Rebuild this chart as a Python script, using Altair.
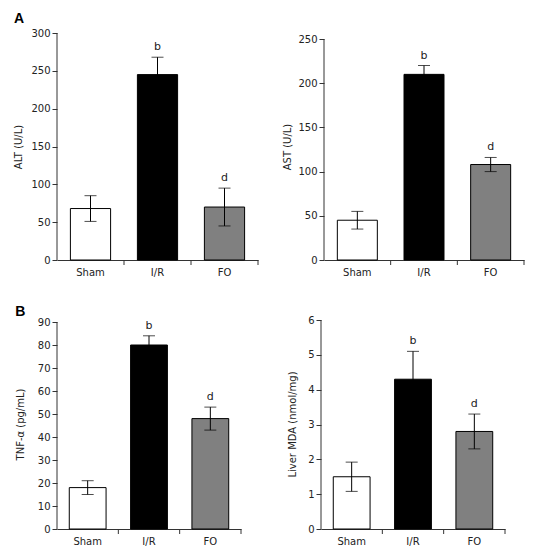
import altair as alt
import pandas as pd

categories = ["Sham", "I/R", "FO"]
sig_labels = ["", "b", "d"]
bar_colors = ["white", "black", "#808080"]

alt_mean = [68, 245, 70]
alt_err = [17, 23, 25]
ast_mean = [45, 210, 108]
ast_err = [10, 10, 8]
tnf_mean = [18, 80, 48]
tnf_err = [3, 4, 5]
mda_mean = [1.5, 4.3, 2.8]
mda_err = [0.42, 0.8, 0.5]

FONT = "DejaVu Sans"
AXC = "#333333"


def panel(mean, err, ytitle, ymax, ystep, dmax, w, h, title_text,
          title_offset, title_pad, fs):
    df = pd.DataFrame({
        "cat": categories,
        "mean": mean,
        "lo": [m - e for m, e in zip(mean, err)],
        "hi": [m + e for m, e in zip(mean, err)],
        "sig": sig_labels,
    })
    xaxis = alt.Axis(title=None, ticks=False, labelAngle=0, labelFont=FONT,
                     labelFontSize=fs, labelColor="#222", domainColor=AXC,
                     labelPadding=7)
    xscale = alt.Scale(paddingInner=0, paddingOuter=0)
    x = alt.X("cat:N", sort=categories, scale=xscale, axis=xaxis)
    vals = []
    v = 0
    while v <= ymax + 1e-9:
        vals.append(round(v, 6))
        v += ystep
    yscale = alt.Scale(domain=[0, dmax], nice=False)
    yaxis = alt.Axis(title=ytitle, values=vals, grid=False, tickSize=5,
                     tickColor=AXC, domain=False, labelFont=FONT,
                     labelFontSize=fs, labelColor="#222", labelPadding=2,
                     titleFont=FONT, titleFontSize=fs, titleFontWeight="normal",
                     titleColor="#222", titlePadding=title_pad)
    base = alt.Chart(df)
    bars = base.mark_bar(width=alt.RelativeBandSize(0.6), stroke="black",
                         strokeWidth=1).encode(
        x=x,
        y=alt.Y("mean:Q", scale=yscale, axis=yaxis),
        color=alt.Color("cat:N", scale=alt.Scale(domain=categories, range=bar_colors),
                        legend=None),
    )
    errs = base.mark_rule(color="black", strokeWidth=1).encode(
        x=x, y=alt.Y("lo:Q", scale=yscale, axis=yaxis), y2="hi:Q")
    cap_hi = base.mark_tick(color="black", thickness=1, size=12).encode(
        x=x, y=alt.Y("hi:Q", scale=yscale, axis=yaxis))
    cap_lo = base.mark_tick(color="black", thickness=1, size=12).encode(
        x=x, y=alt.Y("lo:Q", scale=yscale, axis=yaxis))
    letters = base.mark_text(font=FONT, fontSize=fs + 1, dy=-7,
                             baseline="alphabetic", color="#222").encode(
        x=x, y=alt.Y("hi:Q", scale=yscale, axis=yaxis), text="sig:N")
    xticks = base.mark_rule(color=AXC, strokeWidth=1).encode(
        x=alt.X("cat:N", sort=categories, scale=xscale, axis=xaxis, bandPosition=1),
        y=alt.value(h), y2=alt.value(h + 5))
    yline = alt.Chart(pd.DataFrame({"y0": [0], "y1": [ymax]})).mark_rule(
        color=AXC, strokeWidth=1).encode(
        x=alt.value(0), y=alt.Y("y0:Q", scale=yscale, axis=yaxis), y2="y1:Q")
    props = dict(width=w, height=h)
    if title_text:
        props["title"] = alt.TitleParams(title_text, anchor="start", frame="bounds",
                                         fontSize=14, fontWeight="bold",
                                         font="Liberation Sans", color="black",
                                         offset=title_offset)
    return alt.layer(bars, errs, cap_hi, cap_lo, letters, xticks, yline).properties(**props)


p1 = panel(alt_mean, alt_err, "ALT (U/L)", 300, 50, 300, 201, 227, "A", 2, 7, 10)
p2 = panel(ast_mean, ast_err, "AST (U/L)", 250, 50, 250 * 227 / 221, 200, 227, None, 0, 5, 10)
p3 = panel(tnf_mean, tnf_err, "TNF-α (pg/mL)", 90, 10, 90 * 210 / 207, 184, 210, "B", -2, 12, 10)
p4 = panel(mda_mean, mda_err, "Liver MDA (nmol/mg)", 6, 1, 6 * 210 / 209, 184, 210, None, 0, 10, 10)

row1 = alt.hconcat(p1, p2, spacing=23)
row2 = alt.hconcat(p3, p4, spacing=45)
chart = alt.vconcat(row1, row2, spacing=27).configure_view(stroke=None).properties(
    padding={"top": 4, "left": 5, "right": 5, "bottom": 5}, background="white")

chart.save("out.html", embed_options={"renderer": "svg", "actions": False})
